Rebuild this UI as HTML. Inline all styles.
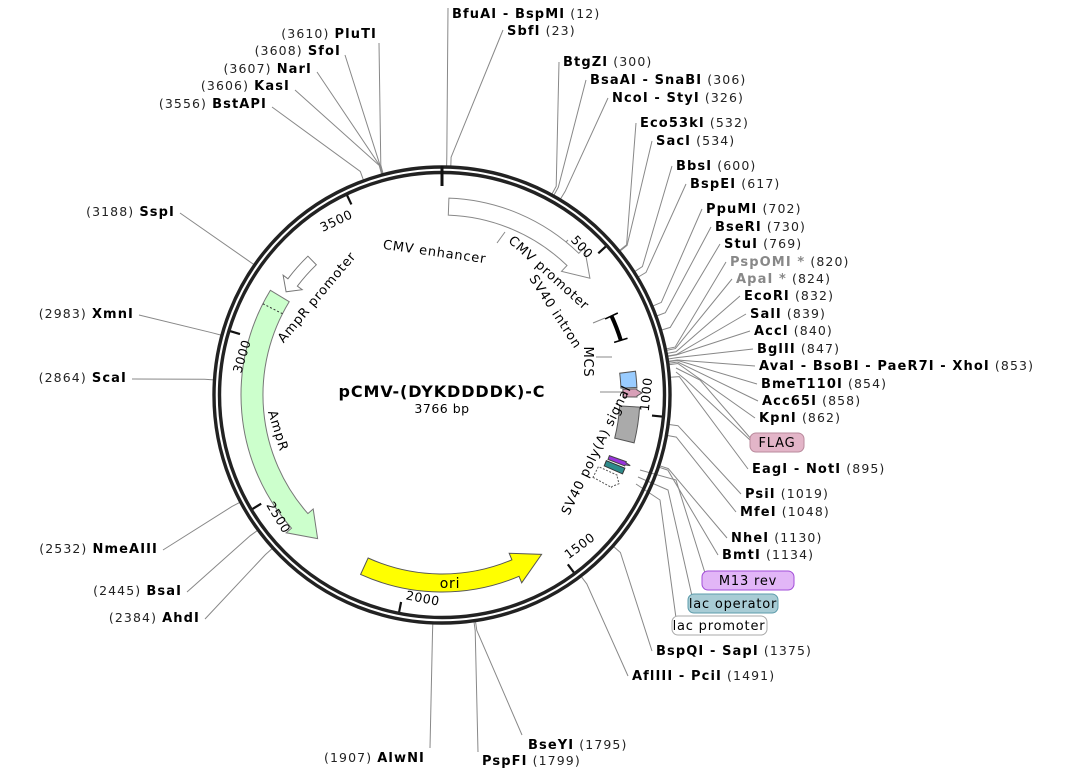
<!DOCTYPE html>
<html><head><meta charset="utf-8">
<style>
html,body{margin:0;padding:0;background:#fff;}
svg{display:block;}
text{font-family:"DejaVu Sans","Liberation Sans",sans-serif;}
.n{font-weight:bold;font-size:13px;fill:#000;letter-spacing:1.1px;}
.p{font-size:12.5px;fill:#222;letter-spacing:1.1px;}
.g{font-weight:bold;font-size:13px;fill:#888;letter-spacing:1.1px;}
.f{font-size:13px;fill:#000;letter-spacing:0.8px;}
.t{font-size:12.5px;fill:#000;letter-spacing:0.6px;}
</style></head>
<body>
<svg id="s" width="1083" height="778" viewBox="0 0 1083 778" xmlns="http://www.w3.org/2000/svg">
<g id="lines" stroke="#888" stroke-width="1" fill="none"></g>
<circle cx="442" cy="395" r="228" fill="none" stroke="#222" stroke-width="3.4"/>
<circle cx="442" cy="395" r="222.5" fill="none" stroke="#222" stroke-width="3.4"/>
<g id="feat"></g>
<g id="ticks" stroke="#111" stroke-width="2.2"></g>

<!-- right labels -->
<text x="452" y="18"><tspan class="n">BfuAI - BspMI</tspan><tspan class="p">  (12)</tspan></text>
<text x="507" y="35"><tspan class="n">SbfI</tspan><tspan class="p">  (23)</tspan></text>
<text x="563" y="66"><tspan class="n">BtgZI</tspan><tspan class="p">  (300)</tspan></text>
<text x="590" y="84"><tspan class="n">BsaAI - SnaBI</tspan><tspan class="p">  (306)</tspan></text>
<text x="612" y="102"><tspan class="n">NcoI - StyI</tspan><tspan class="p">  (326)</tspan></text>
<text x="640" y="127"><tspan class="n">Eco53kI</tspan><tspan class="p">  (532)</tspan></text>
<text x="656" y="145"><tspan class="n">SacI</tspan><tspan class="p">  (534)</tspan></text>
<text x="676" y="170"><tspan class="n">BbsI</tspan><tspan class="p">  (600)</tspan></text>
<text x="690" y="188"><tspan class="n">BspEI</tspan><tspan class="p">  (617)</tspan></text>
<text x="706" y="213"><tspan class="n">PpuMI</tspan><tspan class="p">  (702)</tspan></text>
<text x="715" y="231"><tspan class="n">BseRI</tspan><tspan class="p">  (730)</tspan></text>
<text x="724" y="248"><tspan class="n">StuI</tspan><tspan class="p">  (769)</tspan></text>
<text x="730" y="266"><tspan class="g">PspOMI *</tspan><tspan class="p">  (820)</tspan></text>
<text x="736" y="283"><tspan class="g">ApaI *</tspan><tspan class="p">  (824)</tspan></text>
<text x="744" y="300"><tspan class="n">EcoRI</tspan><tspan class="p">  (832)</tspan></text>
<text x="750" y="318"><tspan class="n">SalI</tspan><tspan class="p">  (839)</tspan></text>
<text x="754" y="335"><tspan class="n">AccI</tspan><tspan class="p">  (840)</tspan></text>
<text x="757" y="353"><tspan class="n">BglII</tspan><tspan class="p">  (847)</tspan></text>
<text x="759" y="370"><tspan class="n">AvaI - BsoBI - PaeR7I - XhoI</tspan><tspan class="p">  (853)</tspan></text>
<text x="761" y="388"><tspan class="n">BmeT110I</tspan><tspan class="p">  (854)</tspan></text>
<text x="762" y="405"><tspan class="n">Acc65I</tspan><tspan class="p">  (858)</tspan></text>
<text x="759" y="422"><tspan class="n">KpnI</tspan><tspan class="p">  (862)</tspan></text>
<text x="752" y="473"><tspan class="n">EagI - NotI</tspan><tspan class="p">  (895)</tspan></text>
<text x="745" y="498"><tspan class="n">PsiI</tspan><tspan class="p">  (1019)</tspan></text>
<text x="740" y="516"><tspan class="n">MfeI</tspan><tspan class="p">  (1048)</tspan></text>
<text x="731" y="542"><tspan class="n">NheI</tspan><tspan class="p">  (1130)</tspan></text>
<text x="722" y="559"><tspan class="n">BmtI</tspan><tspan class="p">  (1134)</tspan></text>
<text x="656" y="655"><tspan class="n">BspQI - SapI</tspan><tspan class="p">  (1375)</tspan></text>
<text x="632" y="680"><tspan class="n">AflIII - PciI</tspan><tspan class="p">  (1491)</tspan></text>
<text x="528" y="749"><tspan class="n">BseYI</tspan><tspan class="p">  (1795)</tspan></text>
<text x="482" y="765"><tspan class="n">PspFI</tspan><tspan class="p">  (1799)</tspan></text>
<!-- left labels -->
<text x="425" y="762" text-anchor="end"><tspan class="p">(1907)  </tspan><tspan class="n">AlwNI</tspan></text>
<text x="200" y="622" text-anchor="end"><tspan class="p">(2384)  </tspan><tspan class="n">AhdI</tspan></text>
<text x="182" y="595" text-anchor="end"><tspan class="p">(2445)  </tspan><tspan class="n">BsaI</tspan></text>
<text x="158" y="553" text-anchor="end"><tspan class="p">(2532)  </tspan><tspan class="n">NmeAIII</tspan></text>
<text x="127" y="382" text-anchor="end"><tspan class="p">(2864)  </tspan><tspan class="n">ScaI</tspan></text>
<text x="134" y="318" text-anchor="end"><tspan class="p">(2983)  </tspan><tspan class="n">XmnI</tspan></text>
<text x="175" y="216" text-anchor="end"><tspan class="p">(3188)  </tspan><tspan class="n">SspI</tspan></text>
<text x="267" y="108" text-anchor="end"><tspan class="p">(3556)  </tspan><tspan class="n">BstAPI</tspan></text>
<text x="290" y="90" text-anchor="end"><tspan class="p">(3606)  </tspan><tspan class="n">KasI</tspan></text>
<text x="312" y="73" text-anchor="end"><tspan class="p">(3607)  </tspan><tspan class="n">NarI</tspan></text>
<text x="341" y="55" text-anchor="end"><tspan class="p">(3608)  </tspan><tspan class="n">SfoI</tspan></text>
<text x="377" y="38" text-anchor="end"><tspan class="p">(3610)  </tspan><tspan class="n">PluTI</tspan></text>

<!-- feature boxes -->
<rect x="750" y="433" width="54" height="19" rx="6" fill="#e3b5c8" stroke="#b98a9c"/>
<text x="777" y="447" class="f" text-anchor="middle">FLAG</text>
<rect x="702" y="571" width="92" height="19" rx="6" fill="#e2b6f7" stroke="#a24ed8"/>
<text x="748" y="585" class="f" text-anchor="middle">M13 rev</text>
<rect x="688" y="594" width="90" height="19" rx="6" fill="#a8ccd5" stroke="#5e9cab"/>
<text x="733" y="608" class="f" text-anchor="middle">lac operator</text>
<rect x="672" y="616" width="95" height="19" rx="6" fill="#fff" stroke="#aaa"/>
<text x="719" y="630" class="f" text-anchor="middle">lac promoter</text>

<!-- feature labels -->
<text class="f" text-anchor="middle" transform="translate(434,256) rotate(8)">CMV enhancer</text>
<text class="f" text-anchor="middle" transform="translate(546,276) rotate(42)">CMV promoter</text>
<text class="f" text-anchor="middle" transform="translate(552,314) rotate(57)">SV40 intron</text>
<text class="f" text-anchor="middle" transform="translate(584,362) rotate(90)">MCS</text>
<text class="f" text-anchor="middle" transform="translate(600,452) rotate(-64)">SV40 poly(A) signal</text>
<text class="f" text-anchor="middle" transform="translate(320,300) rotate(-50)">AmpR promoter</text>
<text class="f" text-anchor="middle" transform="translate(274,432) rotate(73)">AmpR</text>
<text x="450" y="588" class="f" text-anchor="middle" style="font-size:14px">ori</text>

<text x="442" y="397" text-anchor="middle" style="font-weight:bold;font-size:16px;letter-spacing:0.9px">pCMV-(DYKDDDDK)-C</text>
<text x="442" y="413" text-anchor="middle" style="font-size:12.5px;letter-spacing:0.5px">3766 bp</text>
<g id="tl"></g>
</svg>
<script>
var cx=442,cy=395,N=3766,NS="http://www.w3.org/2000/svg";
function P(a,r){var t=a*Math.PI/180;return [cx+r*Math.sin(t),cy-r*Math.cos(t)];}
function A(p){return p[0].toFixed(1)+","+p[1].toFixed(1);}
function el(g,tag,at){var e=document.createElementNS(NS,tag);for(var k in at)e.setAttribute(k,at[k]);document.getElementById(g).appendChild(e);return e;}
var S=[[12,448,8],[23,503,30],[300,559,62],[306,586,80],[326,608,98],[532,636,123],[534,652,141],[600,672,166],[617,686,184],
[702,702,209],[730,711,227],[769,720,244],[820,726,262],[824,732,279],[832,740,296],[839,746,314],[840,750,331],[847,753,349],
[853,755,366],[854,757,384],[858,758,401],[862,755,418],[895,748,469],[1019,741,494],[1048,736,512],[1130,727,538],[1134,718,555],
[1375,652,651],[1491,628,676],[1795,522,735],[1799,478,752],[1907,430,748],[2384,205,619],[2445,187,592],[2532,163,550],
[2864,132,379],[2983,139,315],[3188,180,213],[3556,272,107],[3606,295,90],[3607,317,72],[3608,345,55],[3610,379,43]];
S.forEach(function(s){var a=s[0]/N*360;var p1=P(a,229),p2=P(a,238);
el("lines","polyline",{points:A(p1)+" "+A(p2)+" "+s[1]+","+s[2]});});
[["676,372 686,380 750,440"],["676,368 700,380 752,440"],["640,470 676,480 705,573"],["638,477 668,490 692,596"],["636,484 660,500 676,618"],
["560,248 568,240"],["497,243 505,232"],["593,323 605,318"],["596,357 612,357"],["628,392 600,392"]].forEach(function(l){el("lines","polyline",{points:l[0]});});
function arrow(a1,a2,ah,ri,ro,d,fill,stroke,extra){
 var cw=a2>a1?1:0, rm=(ri+ro)/2;
 var dd="M"+A(P(a1,ro))+" A"+ro+","+ro+" 0 0 "+cw+" "+A(P(ah,ro))+" L"+A(P(ah,ro+d))+" L"+A(P(a2,rm))+" L"+A(P(ah,ri-d))+" L"+A(P(ah,ri))+" A"+ri+","+ri+" 0 0 "+(1-cw)+" "+A(P(a1,ri))+" Z";
 var e=el("feat","path",{d:dd,fill:fill,stroke:stroke,"stroke-width":1});if(extra)for(var k in extra)e.setAttribute(k,extra[k]);}
function seg(a1,a2,ri,ro,fill,stroke,extra){
 var dd="M"+A(P(a1,ro))+" A"+ro+","+ro+" 0 0 1 "+A(P(a2,ro))+" L"+A(P(a2,ri))+" A"+ri+","+ri+" 0 0 0 "+A(P(a1,ri))+" Z";
 var e=el("feat","path",{d:dd,fill:fill,stroke:stroke,"stroke-width":1});if(extra)for(var k in extra)e.setAttribute(k,extra[k]);}
function radArrow(a1,a2,ri,rh,ro,d,fill,stroke,extra){
 var am=(a1+a2)/2;
 var pts=[P(a1,ri),P(a1,rh),P(a1-d,rh),P(am,ro),P(a2+d,rh),P(a2,rh),P(a2,ri)].map(A).join(" ");
 var e=el("feat","polygon",{points:pts,fill:fill,stroke:stroke,"stroke-width":1});if(extra)for(var k in extra)e.setAttribute(k,extra[k]);}
arrow(2,51.7,44,180,197,8,"#fff","#888");
arrow(316,303.5,307,181,193,6,"#fff","#777");
arrow(301.4,220.9,228.5,179,201,7,"#ccffcc","#777");
el("feat","line",{x1:P(297,179)[0],y1:P(297,179)[1],x2:P(297,201)[0],y2:P(297,201)[1],stroke:"#333","stroke-dasharray":"2,2"});
arrow(204.4,148,157,179,197,7,"#ffff00","#555");
seg(83,87.8,179,195,"#99ccff","#555");
radArrow(90.6,88.2,181,195,200,0.3,"#d8a0b8","#555");
seg(93.5,104,178,198,"#aaaaaa","#555");
radArrow(111.2,109.9,178,196,201,0.3,"#9933dd","#444");
seg(111.8,113.6,177,197,"#2e8b8b","#333");
radArrow(118.6,114.6,172,193,198,0.3,"#fff","#555",{"stroke-dasharray":"2,1.5"});
(function(){var a=65,b=73,r=187;var p=P(a,r),q=P(b,r);
el("feat","path",{d:"M"+A(p)+" A"+r+","+r+" 0 0 1 "+A(q),stroke:"#000","stroke-width":4,fill:"none"});
[a,b].forEach(function(x){var u=P(x,180),v=P(x,194);el("feat","line",{x1:u[0],y1:u[1],x2:v[0],y2:v[1],stroke:"#000","stroke-width":1.6});});})();
el("ticks","line",{x1:P(0,229)[0],y1:P(0,229)[1],x2:P(0,209)[0],y2:P(0,209)[1],"stroke-width":3});
[500,1000,1500,2000,2500,3000,3500].forEach(function(v){var a=v/N*360;var p=P(a,221),q=P(a,211);
el("ticks","line",{x1:p[0],y1:p[1],x2:q[0],y2:q[1]});
var off=v<1000?4.4:5.8;var c=P(a-off,204);var rot=(a>90&&a<270)?a-180:(a>=270?a-360:a);
var t=el("tl","text",{"class":"t","text-anchor":"middle","dominant-baseline":"central",transform:"translate("+c[0].toFixed(1)+","+c[1].toFixed(1)+") rotate("+rot.toFixed(1)+")"});t.textContent=String(v);});
</script>
</body></html>
